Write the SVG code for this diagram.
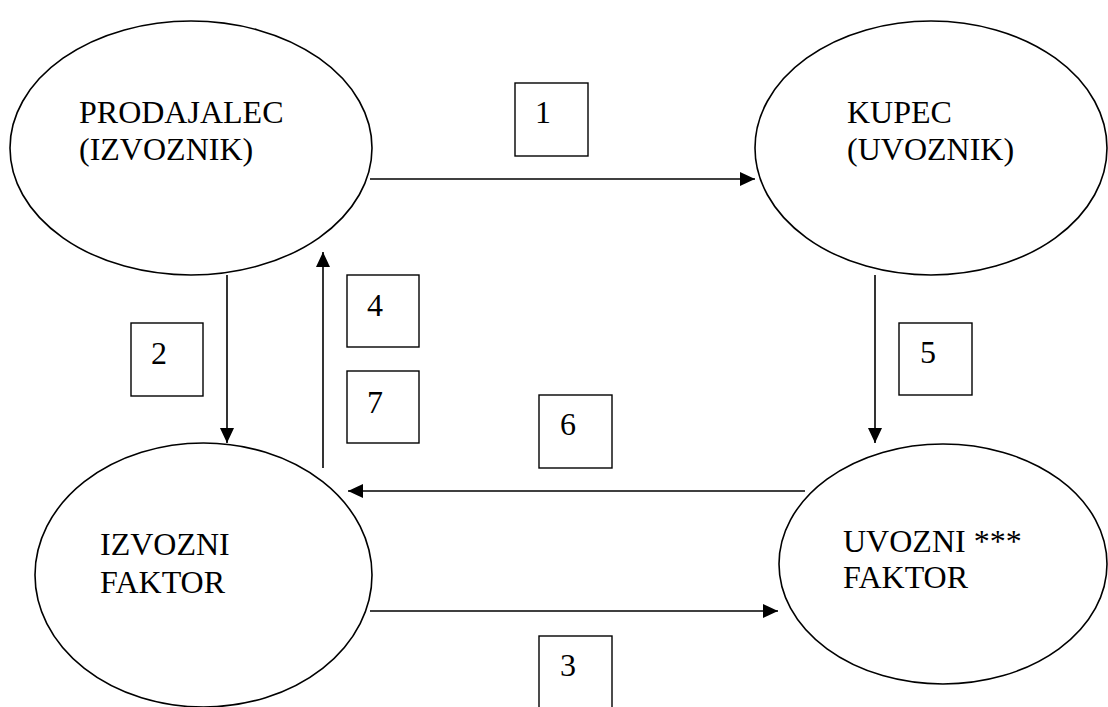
<svg xmlns="http://www.w3.org/2000/svg" width="1108" height="707" viewBox="0 0 1108 707">
<style>
.node ellipse{fill:#fff;stroke:#000;stroke-width:1.6}
.box{fill:#fff;stroke:#000;stroke-width:1.4}
.t{font-family:"Liberation Serif","Times New Roman",serif;font-size:32px;fill:#000}
.c line{stroke:#000;stroke-width:1.6;marker-end:url(#ah)}
</style>
<defs>
<marker id="ah" markerUnits="userSpaceOnUse" viewBox="0 0 15 14" refX="15" refY="7" markerWidth="15" markerHeight="14" orient="auto">
<polygon points="0,0 15,7 0,14" fill="#000"/>
</marker>
</defs>
<rect width="1108" height="707" fill="#fff"/>
<g id="n-prodajalec" class="node">
<ellipse cx="191" cy="148" rx="181" ry="127"/>
<text class="t" x="79" y="123">PRODAJALEC</text>
<text class="t" x="79" y="160">(IZVOZNIK)</text>
</g>
<g id="n-kupec" class="node">
<ellipse cx="931" cy="148" rx="176" ry="127"/>
<text class="t" x="847" y="123">KUPEC</text>
<text class="t" x="847" y="160">(UVOZNIK)</text>
</g>
<g id="n-izvozni" class="node">
<ellipse cx="203.5" cy="575" rx="168.5" ry="132"/>
<text class="t" x="100" y="555">IZVOZNI</text>
<text class="t" x="100" y="593">FAKTOR</text>
</g>
<g id="n-uvozni" class="node">
<ellipse cx="943" cy="564" rx="164" ry="120"/>
<text class="t" x="843" y="552">UVOZNI ***</text>
<text class="t" x="843" y="588">FAKTOR</text>
</g>
<g id="connectors" class="c">
<line x1="370" y1="179" x2="755" y2="179"/>
<line x1="227" y1="275" x2="227" y2="443"/>
<line x1="323" y1="468" x2="323" y2="252"/>
<line x1="875" y1="275" x2="875" y2="443"/>
<line x1="805" y1="491" x2="348" y2="491"/>
<line x1="370" y1="611" x2="778" y2="611"/>
</g>
<g id="label-1"><rect class="box" x="515" y="83" width="73" height="73"/><text class="t" x="535" y="123">1</text></g>
<g id="label-2"><rect class="box" x="131" y="323" width="72" height="73"/><text class="t" x="151" y="364">2</text></g>
<g id="label-3"><rect class="box" x="539" y="636" width="73" height="73"/><text class="t" x="560" y="676">3</text></g>
<g id="label-4"><rect class="box" x="347" y="275" width="72" height="72"/><text class="t" x="367" y="316">4</text></g>
<g id="label-5"><rect class="box" x="899" y="323" width="73" height="72"/><text class="t" x="920" y="363">5</text></g>
<g id="label-6"><rect class="box" x="539" y="395" width="73" height="73"/><text class="t" x="560" y="435">6</text></g>
<g id="label-7"><rect class="box" x="347" y="371" width="72" height="72"/><text class="t" x="367" y="413">7</text></g>
</svg>
